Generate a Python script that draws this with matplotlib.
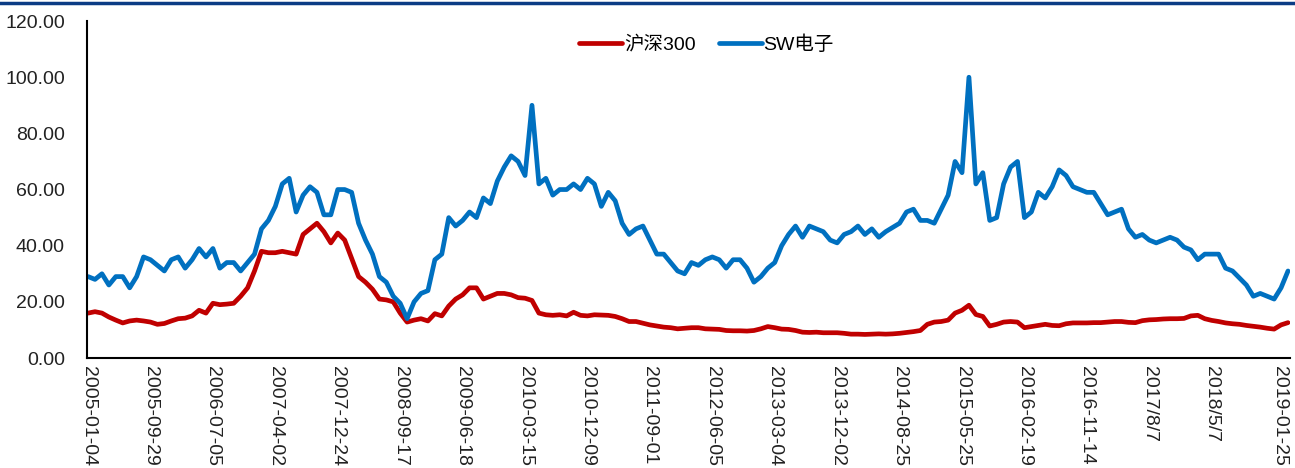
import numpy as np
import matplotlib
matplotlib.use('Agg')
import matplotlib.pyplot as plt
from matplotlib.lines import Line2D

plt.rcParams['font.family'] = ['Liberation Sans', 'Noto Sans CJK SC', 'DejaVu Sans']

# PE 数据，每 20 个交易日取一个点
step_days = 20
hs300 = [16, 16.5, 16, 14.6, 13.5, 12.5, 13.2, 13.5, 13.2, 12.8,
         12, 12.3, 13.2, 14, 14.2, 15, 17, 16, 19.5, 19,
         19.2, 19.5, 22, 25, 31, 38, 37.5, 37.5, 38, 37.5,
         37, 44, 46, 48, 45, 41, 44.5, 42, 35.5, 29,
         27, 24.5, 21, 20.7, 20, 16, 12.8, 13.5, 14, 13.2,
         15.8, 15, 18.5, 21, 22.5, 25, 25, 21, 22, 23,
         23, 22.5, 21.5, 21.3, 20.5, 16, 15.4, 15.2, 15.4, 15,
         16.3, 15.2, 15, 15.4, 15.3, 15.2, 14.8, 14, 13, 13,
         12.4, 11.8, 11.4, 11, 10.8, 10.4, 10.6, 10.8, 10.8, 10.4,
         10.3, 10.2, 9.8, 9.7, 9.7, 9.6, 9.8, 10.4, 11.2, 10.8,
         10.3, 10.2, 9.8, 9.2, 9.1, 9.2, 9, 9, 9, 8.8,
         8.5, 8.5, 8.4, 8.5, 8.6, 8.5, 8.6, 8.8, 9.1, 9.4,
         9.8, 12, 12.8, 13, 13.5, 16, 17, 18.8, 15.5, 14.8,
         11.4, 12, 12.8, 13, 12.8, 10.8, 11.2, 11.6, 12, 11.6,
         11.5, 12.2, 12.5, 12.5, 12.5, 12.6, 12.6, 12.8, 13, 13,
         12.7, 12.6, 13.3, 13.6, 13.7, 13.9, 14, 14, 14.1, 15,
         15.2, 14, 13.4, 13, 12.5, 12.2, 12, 11.6, 11.3, 11,
         10.6, 10.3, 11.8, 12.6]
sw_dianzi = [29, 28, 30, 26, 29, 29, 25, 29, 36, 35,
             33, 31, 35, 36, 32, 35, 39, 36, 39, 32,
             34, 34, 31, 34, 37, 46, 49, 54, 62, 64,
             52, 58, 61, 59, 51, 51, 60, 60, 59, 48,
             42, 37, 29, 27, 22, 19.5, 14, 20, 23, 24,
             35, 37, 50, 47, 49, 52, 50, 57, 55, 63,
             68, 72, 70, 65, 90, 62, 64, 58, 60, 60,
             62, 60, 64, 62, 54, 59, 56, 48, 44, 46,
             47, 42, 37, 37, 34, 31, 30, 34, 33, 35,
             36, 35, 32, 35, 35, 32, 27, 29, 32, 34,
             40, 44, 47, 43, 47, 46, 45, 42, 41, 44,
             45, 47, 44, 46, 43, 45, 46.5, 48, 52, 53,
             49, 49, 48, 53, 58, 70, 66, 100, 62, 66,
             49, 50, 62, 68, 70, 50, 52, 59, 57, 61,
             67, 65, 61, 60, 59, 59, 55, 51, 52, 53,
             46, 43, 44, 42, 41, 42, 43, 42, 39.5, 38.5,
             35, 37, 37, 37, 32, 31, 28.5, 26, 22, 23,
             22, 21, 25, 31]

tick_labels = ['2005-01-04', '2005-09-29', '2006-07-05', '2007-04-02', '2007-12-24',
               '2008-09-17', '2009-06-18', '2010-03-15', '2010-12-09', '2011-09-01',
               '2012-06-05', '2013-03-04', '2013-12-02', '2014-08-25', '2015-05-25',
               '2016-02-19', '2016-11-14', '2017/8/7', '2018/5/7', '2019-01-25']

x = np.arange(len(hs300)) * step_days
ticks = [i * 180 for i in range(len(tick_labels) - 1)] + [x[-1]]

fig = plt.figure(figsize=(12.95, 4.68), dpi=100)
ax = fig.add_axes([0.0672, 0.235, 0.929, 0.72])

ax.plot(x, hs300, color='#C00000', lw=3.4, label='沪深300', solid_capstyle='round')
ax.plot(x, sw_dianzi, color='#0070C0', lw=3.4, label='SW电子', solid_capstyle='round')

ax.set_ylim(0, 120)
ax.set_yticks(np.arange(0, 121, 20))
ax.set_yticklabels([f'{v:.2f}' for v in np.arange(0, 121, 20)])
ax.set_xlim(-3, x[-1] + 6)
ax.set_xticks(ticks)
ax.set_xticklabels(tick_labels, rotation=-90)

ax.tick_params(axis='y', length=0, pad=16, labelsize=14, colors='#222222')
ax.tick_params(axis='x', length=0, pad=6, labelsize=14, colors='#222222')
for lab in ax.get_xticklabels():
    lab.set_va('top')
ax.get_xticklabels()[-1].set_ha('right')

ax.spines['top'].set_visible(False)
ax.spines['right'].set_visible(False)
ax.spines['left'].set_linewidth(1.5)
ax.spines['bottom'].set_linewidth(1.5)

ax.legend(loc='upper center', bbox_to_anchor=(0.515, 1.01), ncol=2, frameon=False,
          fontsize=14, handlelength=2.2, handletextpad=0.1, columnspacing=1.2)

# 顶部深蓝色横线
fig.add_artist(Line2D([0, 1], [0.993, 0.993], color='#0B3C85', lw=2.5,
                      transform=fig.transFigure))

fig.savefig('out.png', dpi=100)
